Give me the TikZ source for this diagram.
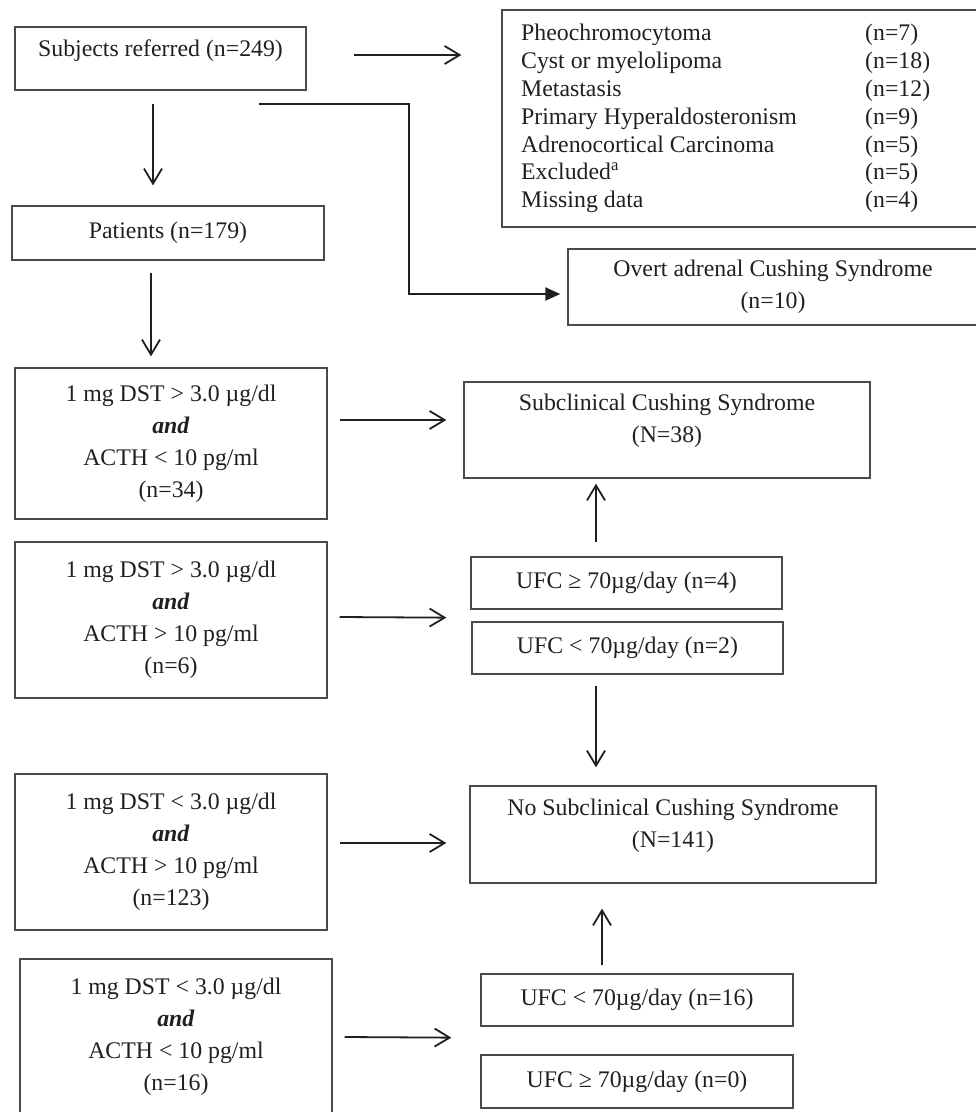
\documentclass[tikz,border=0pt]{standalone}
\usepackage{fontspec}
\setmainfont{Liberation Serif}
\usetikzlibrary{arrows.meta}
\definecolor{Ink}{HTML}{231F20}
\definecolor{Frame}{HTML}{4A4A4A}
\newcommand{\boxfont}{\fontsize{23.8}{32}\selectfont}

\begin{document}
\begin{tikzpicture}[x=1pt,y=-1pt,
    box/.style={draw=Frame,line width=1.3pt,inner sep=0pt,align=center,font=\boxfont,text=Ink},
    txt/.style={inner sep=0pt,align=center,font=\boxfont,text=Ink},
    arr/.style={-{Straight Barb[length=15pt,width=18pt]},line width=1.8pt,Ink},
    elb/.style={-{Triangle[length=15pt,width=13pt]},line width=2pt,Ink}]
    \useasboundingbox (0,0) rectangle (976,1112);

    % left column
    \node[box,minimum width=291pt,minimum height=63pt] (subj) at (160.5,58.5) {};
    \node[txt] (subjtext) at (160.5,51) {Subjects referred (n=249)};
    \node[box,minimum width=312pt,minimum height=54pt] (pat) at (168,233) {Patients (n=179)};
    \node[box,minimum width=312pt,minimum height=151pt] (dsta) at (171,443.5)
      {1 mg DST > 3.0 µg/dl\\\textbf{\textit{and}}\\ACTH < 10 pg/ml\\(n=34)};
    \node[box,minimum width=312pt,minimum height=156pt] (dstb) at (171,620)
      {1 mg DST > 3.0 µg/dl\\\textbf{\textit{and}}\\ACTH > 10 pg/ml\\(n=6)};
    \node[box,minimum width=312pt,minimum height=156pt] (dstc) at (171,852)
      {1 mg DST < 3.0 µg/dl\\\textbf{\textit{and}}\\ACTH > 10 pg/ml\\(n=123)};
    \node[box,minimum width=312pt,minimum height=155pt] (dstd) at (176,1036.5)
      {1 mg DST < 3.0 µg/dl\\\textbf{\textit{and}}\\ACTH < 10 pg/ml\\(n=16)};

    % exclusions
    \node[box,minimum width=476pt,minimum height=217pt] (excl) at (740,118.5) {};
    \foreach \name/\n [count=\i from 0] in {
      Pheochromocytoma/7,
      Cyst or myelolipoma/18,
      Metastasis/12,
      Primary Hyperaldosteronism/9,
      Adrenocortical Carcinoma/5,
      Excluded\textsuperscript{a}/5,
      Missing data/4}{
      \node[txt,anchor=base west] (exname\i) at (521,40.8+27.8*\i) {\name};
      \node[txt,anchor=base west] (excount\i) at (865,40.8+27.8*\i) {(n=\n)};
    }
    \node[box,minimum width=410pt,minimum height=76pt] (overt) at (773,287)
      {Overt adrenal Cushing Syndrome\\(n=10)};

    % right column
    \node[box,minimum width=406pt,minimum height=96pt] (scs) at (667,430) {};
    \node[txt] (scstext) at (667,421) {Subclinical Cushing Syndrome\\(N=38)};
    \node[box,minimum width=311pt,minimum height=52pt] (ufcfour) at (626.5,583) {UFC ≥ 70µg/day (n=4)};
    \node[box,minimum width=311pt,minimum height=52pt] (ufctwo) at (627.5,648) {UFC < 70µg/day (n=2)};
    \node[box,minimum width=406pt,minimum height=97pt] (nscs) at (673,834.5) {};
    \node[txt] (nscstext) at (673,826) {No Subclinical Cushing Syndrome\\(N=141)};
    \node[box,minimum width=312pt,minimum height=52pt] (ufcsixteen) at (637,1000) {UFC < 70µg/day (n=16)};
    \node[box,minimum width=312pt,minimum height=53pt] (ufczero) at (637,1081.5) {UFC ≥ 70µg/day (n=0)};

    % connectors
    \draw[arr] ([xshift=47pt,yshift=3.5pt]subj.east) -- ([xshift=-40pt,yshift=3.5pt]subj.east -| excl.west);
    \draw[arr] ([xshift=-7.5pt,yshift=-13pt]subj.south) -- ([xshift=-15pt,yshift=20pt]pat.north);
    \draw[elb] ([xshift=98.5pt,yshift=-13pt]subj.south) -| ([xshift=-158pt,yshift=-7pt]overt.west)
      -- ([xshift=-7pt,yshift=-7pt]overt.west);
    \draw[arr] ([xshift=-17pt,yshift=-12pt]pat.south) -- ([xshift=-20pt,yshift=11pt]dsta.north);
    \draw[arr] ([xshift=12pt,yshift=23.5pt]dsta.east) -- ([xshift=-17pt,yshift=10pt]scs.west);
    \draw[arr] ([xshift=12pt,yshift=3pt]dstb.east) -- ([xshift=-24pt,yshift=-8pt]ufcfour.south west);
    \draw[arr] ([xshift=-30.5pt,yshift=14pt]ufcfour.north) -- ([xshift=-71pt,yshift=-5pt]scs.south);
    \draw[arr] ([xshift=-31.5pt,yshift=-11pt]ufctwo.south) -- ([xshift=-77pt,yshift=18pt]nscs.north);
    \draw[arr] ([xshift=12pt,yshift=9pt]dstc.east) -- ([xshift=-23pt,yshift=-8.5pt]nscs.west);
    \draw[arr] ([xshift=-35pt,yshift=8pt]ufcsixteen.north) -- ([xshift=-71pt,yshift=-25pt]nscs.south);
    \draw[arr] ([xshift=12pt,yshift=-0.5pt]dstd.east) -- ([xshift=-29pt,yshift=-11pt]ufcsixteen.south west);
\end{tikzpicture}
\end{document}
